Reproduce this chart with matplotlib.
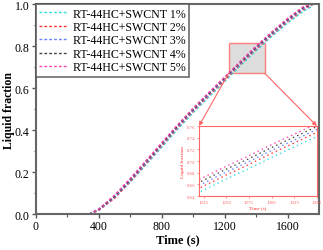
import matplotlib
matplotlib.use("Agg")
import matplotlib.pyplot as plt
from matplotlib.patches import Rectangle, ConnectionPatch

plt.rcParams['font.family'] = ['Liberation Serif', 'DejaVu Serif']

times = [340, 400, 500, 600, 700, 800, 900, 1000, 1100, 1200, 1225, 1250, 1275,
         1300, 1325, 1350, 1400, 1500, 1600, 1700, 1760]
frac_1 = [0.002, 0.025, 0.08, 0.152, 0.235, 0.318, 0.403, 0.483, 0.558, 0.631, 0.650,
          0.669, 0.687, 0.706, 0.724, 0.742, 0.778, 0.846, 0.910, 0.966, 0.99]
frac_2 = [0.0, 0.018, 0.075, 0.155, 0.24, 0.325, 0.41, 0.49, 0.565, 0.638, 0.657,
          0.676, 0.694, 0.713, 0.731, 0.749, 0.785, 0.853, 0.917, 0.973, 0.998]
frac_3 = [0.0, 0.02, 0.08, 0.16, 0.245, 0.33, 0.415, 0.495, 0.57, 0.643, 0.662,
          0.681, 0.699, 0.718, 0.736, 0.754, 0.79, 0.858, 0.922, 0.978, 1.0]
frac_4 = [0.0, 0.022, 0.085, 0.165, 0.25, 0.335, 0.42, 0.50, 0.575, 0.648, 0.667,
          0.686, 0.704, 0.723, 0.741, 0.759, 0.795, 0.863, 0.927, 0.983, 1.0]
frac_5 = [0.0, 0.025, 0.09, 0.17, 0.255, 0.34, 0.425, 0.505, 0.58, 0.653, 0.672,
          0.691, 0.709, 0.728, 0.746, 0.764, 0.80, 0.868, 0.932, 0.988, 1.0]
labels = ["RT-44HC+SWCNT 1%", "RT-44HC+SWCNT 2%", "RT-44HC+SWCNT 3%",
          "RT-44HC+SWCNT 4%", "RT-44HC+SWCNT 5%"]
series = [frac_1, frac_2, frac_3, frac_4, frac_5]
colors = ['#33dddd', '#ff3333', '#6680ff', '#444444', '#ff44aa']

fig = plt.figure(figsize=(3.23, 2.51), dpi=100)
ax = fig.add_axes([0.111, 0.143, 0.877, 0.837])
for y, c, l in zip(series, colors, labels):
    ax.plot(times, y, color=c, lw=1.0, ls=(0, (2, 1.5)), label=l)
ax.set_xlim(0, 1800)
ax.set_ylim(0, 1.0)
ax.set_xticks([0, 400, 800, 1200, 1600])
ax.set_xticks([200, 600, 1000, 1400], minor=True)
ax.set_yticks([0.0, 0.2, 0.4, 0.6, 0.8, 1.0])
ax.set_yticks([0.1, 0.3, 0.5, 0.7, 0.9], minor=True)
ax.set_yticklabels(['0.0', '0.2', '0.4', '0.6', '0.8', '1.0'])
ax.tick_params(labelsize=8.5, length=3, width=1, color='#555555', pad=1.5)
ax.tick_params(which='minor', length=1.8, width=0.8, color='#555555')
for s in ax.spines.values():
    s.set_color('#666666')
    s.set_linewidth(1.5)
ax.set_xlabel("Time (s)", fontsize=9, fontweight='bold', labelpad=1)
ax.set_ylabel("Liquid fraction", fontsize=8.5, fontweight='bold')
ax.yaxis.set_label_coords(-0.072, 0.5)
leg = ax.legend(loc='upper left', fontsize=8.6, frameon=True, fancybox=False,
                borderaxespad=0, handlelength=2.4, handletextpad=0.4,
                labelspacing=0.12, borderpad=0.3)
leg.get_frame().set_edgecolor('#555555')
leg.get_frame().set_linewidth(1.3)

rect = Rectangle((1225, 0.67), 230, 0.145, facecolor='#dddddd',
                 edgecolor='#ff8080', lw=1.0, zorder=0.5)
ax.add_patch(rect)

red = '#ff6666'
axin = fig.add_axes([0.616, 0.215, 0.365, 0.279])
for y, c in zip(series, colors):
    axin.plot(times, y, color=c, lw=0.9, ls=(0, (1.2, 2.5)))
axin.set_xlim(1220, 1350)
axin.set_ylim(0.64, 0.76)
axin.set_xticks([1225, 1250, 1275, 1300, 1325, 1350])
axin.set_yticks([0.64, 0.66, 0.68, 0.70, 0.72, 0.74, 0.76])
axin.tick_params(labelsize=3.5, length=1.5, width=0.5, color=red,
                 labelcolor=red, pad=1)
for s in axin.spines.values():
    s.set_color(red)
    s.set_linewidth(0.8)
axin.set_xlabel("Time (s)", fontsize=3.5, color=red, fontweight='bold', labelpad=1)
axin.set_ylabel("Liquid fraction", fontsize=3.5, color=red, fontweight='bold', labelpad=1)

for xr, xa in [(1225, 0.0), (1455, 1.0)]:
    con = ConnectionPatch(xyA=(xr, 0.67), coordsA=ax.transData,
                          xyB=(xa, 1.0), coordsB=axin.transAxes,
                          arrowstyle='-|>', mutation_scale=6, color=red, lw=0.8)
    fig.add_artist(con)

fig.savefig("out.png", dpi=100)
